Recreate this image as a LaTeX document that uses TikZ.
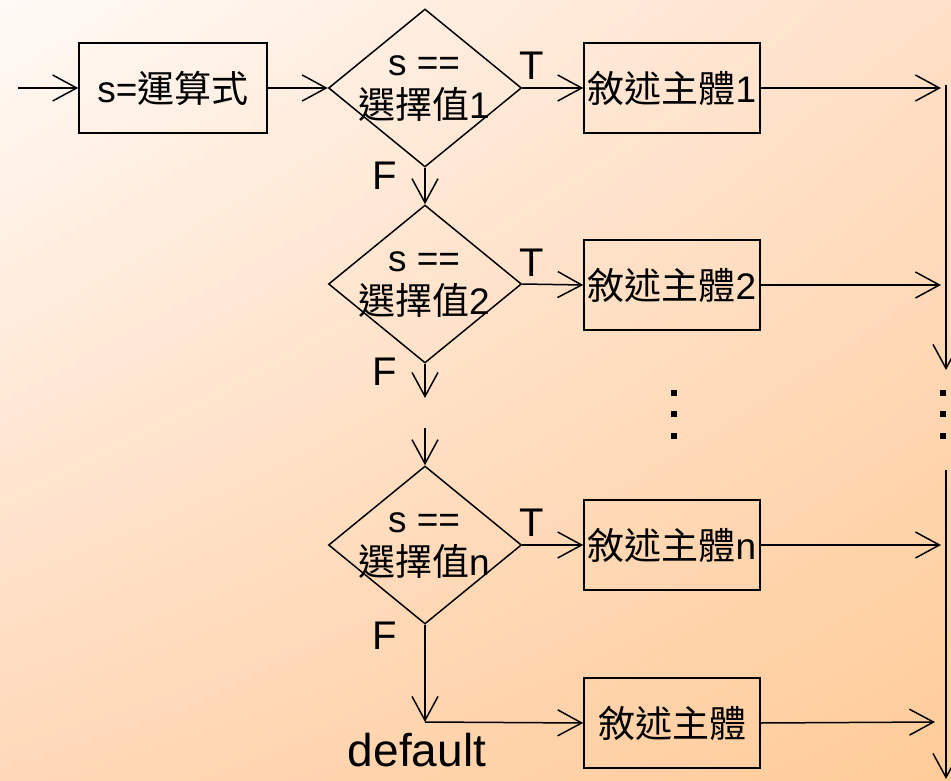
\documentclass[tikz,border=0pt]{standalone}
\usepackage{fontspec}
\setmainfont{Liberation Sans}
\newfontfamily\cjkfont{Noto Sans CJK TC}
\newcommand\zh[1]{{\cjkfont #1}}
\usetikzlibrary{shapes.geometric,arrows.meta,shadings}
\definecolor{bgTL}{HTML}{FFFAF6}
\definecolor{bgTR}{HTML}{FFE0C8}
\definecolor{bgBL}{HTML}{FFD8B8}
\definecolor{bgBR}{HTML}{FFCC99}
\begin{document}
\begin{tikzpicture}[x=1pt,y=-1pt,
  flow/.style={line width=1.5pt, -{Straight Barb[length=24pt,width=26pt]}},
  procbox/.style={draw, line width=1.5pt, minimum height=90pt, inner sep=0pt,
    font=\fontsize{37}{43}\selectfont},
  decision/.style={draw, diamond, line width=1.5pt, minimum width=193pt,
    minimum height=158pt, inner sep=0pt},
  dtext/.style={align=center, inner sep=0pt, font=\fontsize{37}{43}\selectfont},
  tf/.style={inner sep=0pt, font=\fontsize{40}{40}\selectfont},
  dotmark/.style={fill, minimum size=6.5pt, inner sep=0pt}
]
% background
\useasboundingbox (0,0) rectangle (951,781);
\shade[upper left=bgTL, upper right=bgTR, lower left=bgBL, lower right=bgBR]
  (0,0) rectangle (951,781);

% expression box
\coordinate (start) at (18,88);
\node[procbox, minimum width=188pt] (expr) at (173,88) {s=\zh{運算式}};

% decisions
\node[decision] (d1) at (425,88) {};
\node[dtext] (t1) at (424,89) {s ==\\\zh{選擇值}1};
\node[decision] (d2) at (425,284) {};
\node[dtext] (t2) at (424,285) {s ==\\\zh{選擇值}2};
\node[decision] (d3) at (425,545) {};
\node[dtext] (t3) at (424,546) {s ==\\\zh{選擇值}n};

% statement bodies
\node[procbox, minimum width=176pt] (s1) at (672,88) {\zh{敘述主體}1};
\node[procbox, minimum width=176pt] (s2) at (672,285) {\zh{敘述主體}2};
\node[procbox, minimum width=176pt] (sn) at (672,545) {\zh{敘述主體}n};
\node[procbox, minimum width=176pt] (sd) at (672,723) {\zh{敘述主體}};

% T / F labels
\node[tf] (T1) at (532,66) {T};
\node[tf] (T2) at (532,263) {T};
\node[tf] (T3) at (532,523) {T};
\node[tf] (F1) at (385,176) {F};
\node[tf] (F2) at (385,372) {F};
\node[tf] (F3) at (385,636) {F};
\node[inner sep=0pt, font=\fontsize{46}{46}\selectfont] (dflt) at (417,750) {default};

% free ends
\coordinate (e1) at (941,88);
\coordinate (e2) at (941,285);
\coordinate (en) at (941,545);
\coordinate (ed) at (935,722);
\coordinate (f2) at (425,398);
\coordinate (g3) at (425,428);
\coordinate (corner) at (425,722);
\coordinate (ra) at (946,85);
\coordinate (rb) at (946,370);
\coordinate (rc) at (946,470);
\coordinate (rd) at (946,779);

% connectors
\draw[flow] (start) -- (expr.west);
\draw[flow] (expr.east) -- (d1.west);
\draw[flow] (d1.east) -- (s1.west);
\draw[flow] (s1.east) -- (e1);
\draw[flow] (d1.south) -- (d2.north);
\draw[flow] (d2.east) -- (s2.west);
\draw[flow] (s2.east) -- (e2);
\draw[flow] (d2.south) -- (f2);
\draw[flow] (g3) -- (d3.north);
\draw[flow] (d3.east) -- (sn.west);
\draw[flow] (sn.east) -- (en);
\draw[flow] (d3.south) -- (corner);
\draw[flow] (corner) -- (sd.west);
\draw[flow] (sd.east) -- (ed);
\draw[flow] (ra) -- (rb);
\draw[flow] (rc) -- (rd);

% ellipsis dots
\foreach \y [count=\i] in {393,414,436} {
  \node[dotmark] (m\i) at (674,\y) {};
  \node[dotmark] (r\i) at (943,\y) {};
}
\end{tikzpicture}
\end{document}
